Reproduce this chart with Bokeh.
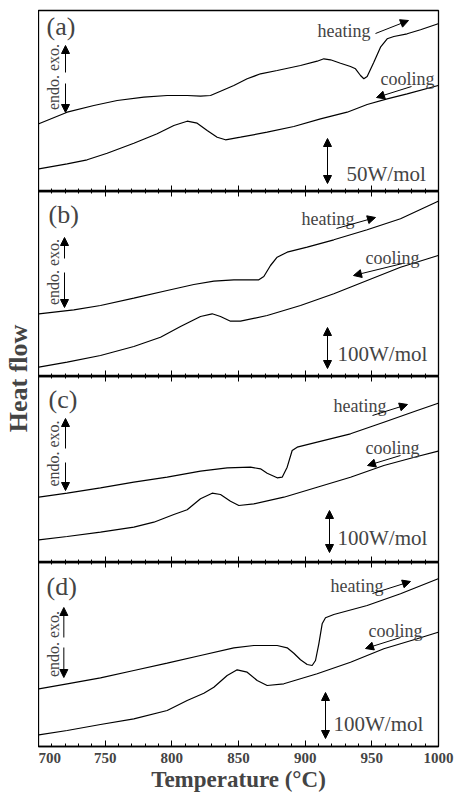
import math
from bokeh.plotting import figure
from bokeh.models import (Range1d, SingleIntervalTicker, LinearAxis, Arrow, NormalHead,
                          Label, CustomJSTickFormatter)
from bokeh.layouts import column, row
from bokeh.embed import file_html
from bokeh.resources import INLINE

FONT = "Liberation Serif"

# ---------------- data (heat flow in arbitrary units) ----------------
a_heat_T = [700.25, 721.5, 741.5, 759, 779, 796.5, 811.5, 821.5, 829, 836.5, 846.5, 856.5, 866.5,
            879, 896.5, 909, 914, 919, 926.5, 934, 937.75, 941.5, 944, 946.5, 951.5, 956.5, 961.5,
            966.5, 976.5, 986.5, 999.75]
a_heat_Y = [67.7, 79.3, 86, 91, 94.3, 96, 96, 95.3, 96, 100.3, 106, 112.7, 117.7,
            121, 126, 130.3, 132.7, 131.7, 128.3, 125, 122.7, 116, 112.7, 115, 129.3, 144.3, 152.7,
            155, 157.7, 161.7, 167.7]
a_cool_T = [700.25, 721.5, 736.5, 751.5, 771.5, 789, 801.5, 811.5, 819, 826.5, 834, 840.25, 851.5,
            871.5, 891.5, 911.5, 931.5, 946.5, 961.5, 976.5, 999.75]
a_cool_Y = [22.7, 27.7, 31.7, 38.3, 48.3, 57.7, 66, 70.3, 68.3, 61, 54.3, 51.7, 54.3,
            59.3, 65, 72.7, 79.3, 87, 92.7, 97.7, 106]

b_heat_T = [700.25, 726.5, 746.5, 771.5, 796.5, 816.5, 831.5, 846.5, 865.25, 869, 874, 879, 886.5,
            901.5, 921.5, 946.5, 971.5, 999.75]
b_heat_Y = [62.7, 66.7, 71, 78.3, 86, 92, 95.3, 96.7, 96.7, 100, 111, 119.3, 124.3,
            129.3, 136.7, 146.7, 157.7, 175.3]
b_cool_T = [700.25, 721.5, 746.5, 771.5, 791.5, 806.5, 821.5, 830.25, 836.5, 844, 851.5, 871.5,
            896.5, 921.5, 946.5, 971.5, 999.75]
b_cool_Y = [9.3, 14.3, 21, 30, 39.3, 50, 60, 62.7, 60, 55.3, 55.3, 61,
            71, 82.7, 96, 109.3, 121]

c_heat_T = [700.25, 721.5, 746.5, 771.5, 796.5, 821.5, 841.5, 859, 866.5, 871.5, 879, 882.75,
            886.5, 890.25, 894, 909, 934, 959, 984, 999.75]
c_heat_Y = [65.3, 69.3, 74.7, 80.3, 85.3, 91.3, 94.7, 95.3, 93.7, 89.3, 84.7, 85.3,
            95.3, 112, 115.3, 120.3, 128.7, 140.3, 152, 159.3]
c_cool_T = [700.25, 721.5, 746.5, 771.5, 786.5, 801.5, 811.5, 821.5, 830.25, 836.5, 844, 850.25,
            861.5, 884, 909, 934, 959, 984, 999.75]
c_cool_Y = [22.7, 26, 30.3, 35.3, 40.3, 48, 52.7, 63.7, 69.3, 68, 61.3, 57,
            58.7, 65.3, 75.3, 85.3, 97, 106, 111.3]

d_heat_T = [700.25, 721.5, 746.5, 771.5, 796.5, 821.5, 846.5, 861.5, 879, 886.5, 891.5, 896.5,
            901.5, 905.25, 907.75, 910.25, 912.75, 915.25, 921.5, 946.5, 971.5, 999.75]
d_heat_Y = [57.7, 62.7, 68.7, 76, 83.3, 91, 98.7, 101, 101, 98.7, 93.3, 86.7,
            82, 81, 86, 102.7, 122.7, 128.7, 132, 141, 152.7, 167.7]
d_cool_T = [700.25, 721.5, 746.5, 771.5, 796.5, 811.5, 824, 831.5, 841.5, 849, 856.5, 864,
            871.5, 884, 909, 934, 959, 984, 999.75]
d_cool_Y = [11.7, 16, 22, 27.7, 36, 46, 53.3, 59.3, 71, 76.7, 74.3, 66,
            61, 62.7, 72.7, 84.3, 97.7, 107.7, 114.3]

panel_tags = ["(a)", "(b)", "(c)", "(d)"]
scale_texts = ["50W/mol", "100W/mol", "100W/mol", "100W/mol"]
x_ticks_interval = 50
x_label = "Temperature (°C)"
y_label = "Heat flow"

# ---------------- layout / annotation placement (styles, not data) ----------------
specs = [
    dict(fh=181, top=10, tag=(706, 165), endo=(711.3, 114.5), up=(720.25, 119, 146), down=(720.25, 108, 79),
         sc=(916.75, 53, 8), sct=(931, 18), ht=(909.25, 161), ha=(952.75, 158, 977.5, 171),
         ct=(956.5, 113), ca=(979.75, 105, 953.5, 94)),
    dict(fh=185, top=0, tag=(707.5, 162), endo=(711, 104.5), up=(719.5, 118, 139), down=(719.5, 104, 69),
         sc=(916.75, 49, 8), sct=(924.25, 23), ht=(897.25, 158), ha=(923.5, 148, 952.75, 159),
         ct=(945.25, 119), ca=(973, 113, 936.25, 101)),
    dict(fh=186, top=0, tag=(707.5, 163), endo=(711.3, 109), up=(720.25, 114, 144), down=(720.25, 100, 72),
         sc=(918.25, 52, 10), sct=(924.25, 25), ht=(921.25, 157), ha=(950.5, 147, 976.75, 158),
         ct=(945.25, 115), ca=(971.5, 107, 946.75, 97)),
    dict(fh=184, top=0, tag=(706, 160), endo=(711, 102.5), up=(719, 109, 139), down=(719, 99, 69),
         sc=(915.25, 54, 8), sct=(921.25, 23), ht=(919, 161), ha=(950.5, 153, 979, 165),
         ct=(947.5, 116), ca=(971.5, 109, 945.25, 98)),
]
curves = [
    (a_heat_T, a_heat_Y, a_cool_T, a_cool_Y),
    (b_heat_T, b_heat_Y, b_cool_T, b_cool_Y),
    (c_heat_T, c_heat_Y, c_cool_T, c_cool_Y),
    (d_heat_T, d_heat_Y, d_cool_T, d_cool_Y),
]

FRAME_W = 400
LEFT_W = 38
RIGHT_B = 16
BOTTOM_B = 46


def head():
    return NormalHead(size=8, fill_color="black", line_color="black", line_width=1)


def hide_labels(ax):
    ax.formatter = CustomJSTickFormatter(code="return ''")
    ax.major_label_text_font_size = "0px"
    ax.major_label_standoff = 0


figs = []
for i, (spec, cv) in enumerate(zip(specs, curves)):
    last = (i == 3)
    p = figure(frame_width=FRAME_W, frame_height=spec["fh"],
               x_range=Range1d(700, 1000), y_range=Range1d(0, spec["fh"]),
               output_backend="svg", toolbar_location=None,
               min_border_left=0, min_border_right=RIGHT_B, min_border_top=spec["top"],
               min_border_bottom=BOTTOM_B if last else 0, y_axis_location=None)
    p.grid.visible = False
    p.outline_line_color = "black"
    p.outline_line_width = 1.3
    p.background_fill_color = "white"
    p.border_fill_color = "white"

    ax = p.xaxis[0]
    ax.ticker = SingleIntervalTicker(interval=x_ticks_interval, num_minor_ticks=5)
    ax.major_tick_in = 6
    ax.major_tick_out = 0
    ax.minor_tick_in = 3
    ax.minor_tick_out = 0
    ax.axis_line_width = 1.3
    ax.major_tick_line_width = 1
    ax.minor_tick_line_width = 1
    if last:
        ax.major_label_text_font = FONT
        ax.major_label_text_font_style = "bold"
        ax.major_label_text_font_size = "15px"
        ax.major_label_standoff = 6
        ax.axis_label = x_label
        ax.axis_label_text_font = FONT
        ax.axis_label_text_font_style = "bold"
        ax.axis_label_text_font_size = "23px"
        ax.axis_label_standoff = 1
    else:
        hide_labels(ax)

    if i > 0:
        top_ax = LinearAxis(ticker=SingleIntervalTicker(interval=x_ticks_interval, num_minor_ticks=5),
                            major_tick_in=5, major_tick_out=0, minor_tick_in=2, minor_tick_out=0,
                            axis_line_width=1.3)
        hide_labels(top_ax)
        p.add_layout(top_ax, "above")

    hT, hY, cT, cY = cv
    p.line(hT, hY, line_color="black", line_width=1.2)
    p.line(cT, cY, line_color="black", line_width=1.2)

    # panel tag
    p.add_layout(Label(x=spec["tag"][0], y=spec["tag"][1], text=panel_tags[i], text_font=FONT,
                       text_font_size="26px", text_align="left", text_baseline="middle"))
    # endo / exo
    p.add_layout(Label(x=spec["endo"][0], y=spec["endo"][1], text="endo. exo.", text_font=FONT,
                       text_font_size="16px", angle=math.pi / 2, text_align="center",
                       text_baseline="middle"))
    ux, uy0, uy1 = spec["up"]
    p.add_layout(Arrow(end=head(), x_start=ux, y_start=uy0, x_end=ux, y_end=uy1, line_width=1))
    dx, dy0, dy1 = spec["down"]
    p.add_layout(Arrow(end=head(), x_start=dx, y_start=dy0, x_end=dx, y_end=dy1, line_width=1))
    # scale bar
    sx, sy0, sy1 = spec["sc"]
    p.add_layout(Arrow(start=head(), end=head(), x_start=sx, y_start=sy0, x_end=sx, y_end=sy1,
                       line_width=1))
    p.add_layout(Label(x=spec["sct"][0], y=spec["sct"][1], text=scale_texts[i], text_font=FONT,
                       text_font_size="21px", text_align="left", text_baseline="alphabetic"))
    # heating / cooling
    p.add_layout(Label(x=spec["ht"][0], y=spec["ht"][1], text="heating", text_font=FONT,
                       text_font_size="18px", text_align="left", text_baseline="alphabetic"))
    x0, y0, x1, y1 = spec["ha"]
    p.add_layout(Arrow(end=head(), x_start=x0, y_start=y0, x_end=x1, y_end=y1, line_width=1))
    p.add_layout(Label(x=spec["ct"][0], y=spec["ct"][1], text="cooling", text_font=FONT,
                       text_font_size="18px", text_align="left", text_baseline="alphabetic"))
    x0, y0, x1, y1 = spec["ca"]
    p.add_layout(Arrow(end=head(), x_start=x0, y_start=y0, x_end=x1, y_end=y1, line_width=1))
    figs.append(p)

TOTAL_H = 792
lab = figure(frame_width=LEFT_W, frame_height=TOTAL_H, x_range=Range1d(0, LEFT_W),
             y_range=Range1d(0, TOTAL_H), output_backend="svg", toolbar_location=None,
             min_border=0, x_axis_location=None, y_axis_location=None)
lab.grid.visible = False
lab.outline_line_color = None
lab.add_layout(Label(x=17.5, y=TOTAL_H - 378, text=y_label, text_font=FONT, text_font_style="bold",
                     text_font_size="26px", angle=math.pi / 2, text_align="center",
                     text_baseline="middle"))

layout = row(lab, column(*figs, spacing=0), spacing=0)
open("out.html", "w").write(file_html(layout, INLINE))
